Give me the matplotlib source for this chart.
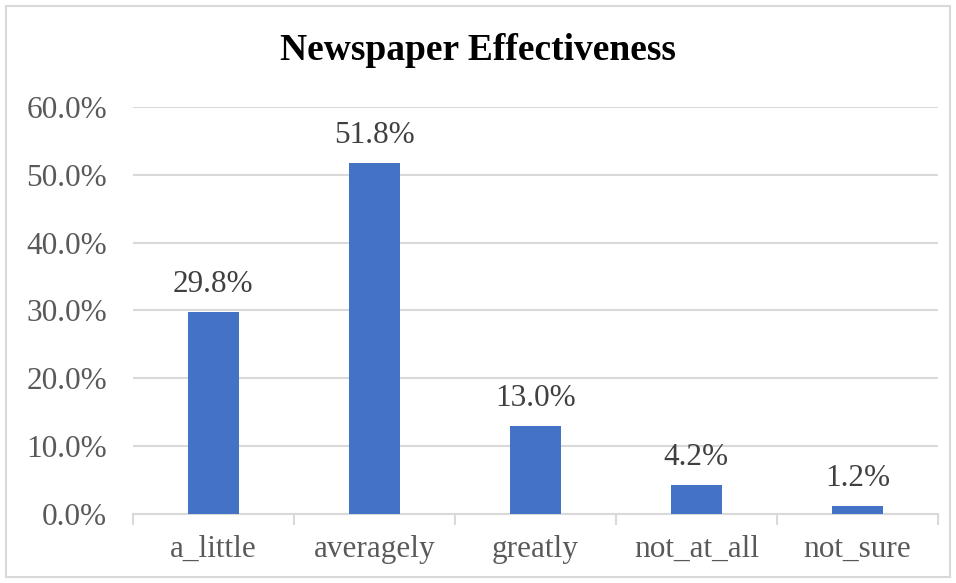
import matplotlib.pyplot as plt
from matplotlib.patches import Rectangle
from matplotlib.ticker import FuncFormatter, FixedLocator, NullFormatter

categories = ["a_little", "averagely", "greatly", "not_at_all", "not_sure"]
shares = [0.298, 0.518, 0.130, 0.042, 0.012]
labels = ["29.8%", "51.8%", "13.0%", "4.2%", "1.2%"]
y_ticks = [0.0, 0.1, 0.2, 0.3, 0.4, 0.5, 0.6]

plt.rcParams['font.family'] = ['Liberation Serif', 'DejaVu Serif']

fig = plt.figure(figsize=(9.56, 5.83), dpi=100)
ax = fig.add_axes([0.139, 0.1184, 0.842, 0.6981])

# chart border like Excel
fig.patches.append(Rectangle((6 / 956, 6 / 583), 944 / 956, 571 / 583,
                             transform=fig.transFigure, fill=False,
                             edgecolor="#D9D9D9", linewidth=1.5))

x = range(len(categories))
ax.bar(x, shares, width=0.32, color="#4472C4", zorder=3)

for i, (v, t) in enumerate(zip(shares, labels)):
    ax.annotate(t, (i, v), xytext=(0, 13), textcoords="offset pixels",
                ha="center", va="bottom", fontsize=22.5, color="#404040")

ax.set_ylim(0, 0.6)
ax.set_xlim(-0.5, len(categories) - 0.5)
ax.set_yticks(y_ticks)
ax.yaxis.set_major_formatter(FuncFormatter(lambda v, p: "%.1f%%" % (v * 100)))
ax.tick_params(axis="y", length=0, labelsize=22.5, labelcolor="#595959", pad=18.5)
ax.grid(axis="y", color="#D9D9D9", linewidth=1.5, zorder=0)

ax.set_xticks(list(x))
ax.set_xticklabels(categories)
ax.tick_params(axis="x", which="major", length=0, labelsize=22.5,
               labelcolor="#595959", pad=15)
ax.xaxis.set_minor_locator(FixedLocator([i - 0.5 for i in range(len(categories) + 1)]))
ax.xaxis.set_minor_formatter(NullFormatter())
ax.tick_params(axis="x", which="minor", length=8, width=1.5, color="#D9D9D9")

for s in ["left", "right", "top"]:
    ax.spines[s].set_visible(False)
ax.spines["bottom"].set_color("#D9D9D9")
ax.spines["bottom"].set_linewidth(1.5)

fig.text(0.5, 0.913, "Newspaper Effectiveness", ha="center", va="center",
         fontsize=27, fontweight="bold", color="black")

fig.savefig("out.png", dpi=100)
